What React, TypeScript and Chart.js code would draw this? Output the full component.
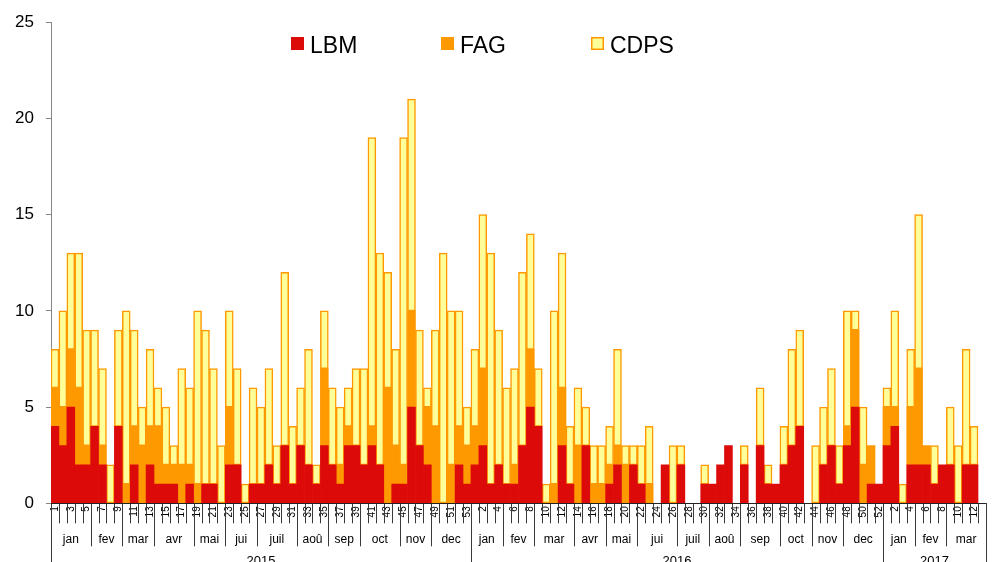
import React, { useEffect, useRef } from "react";
import { Chart, registerables } from "chart.js";

Chart.register(...registerables);

// ---- data ----
const years = ["2015", "2016", "2017"];
const yearWeekCounts = [53, 52, 13];

const monthLabels = [
  "jan", "fev", "mar", "avr", "mai", "jui", "juil", "aoû", "sep", "oct", "nov", "dec",
  "jan", "fev", "mar", "avr", "mai", "jui", "juil", "aoû", "sep", "oct", "nov", "dec",
  "jan", "fev", "mar",
];
const monthWeekCounts = [
  5, 4, 4, 5, 4, 4, 5, 4, 4, 5, 4, 5,
  4, 4, 5, 4, 4, 5, 4, 4, 5, 4, 4, 5,
  4, 4, 5,
];

// LBM (red)
const lbm = [
  // 2015
  4, 3, 5, 2, 2, 4, 2, 0, 4, 0, 2, 0, 2, 1, 1, 1, 0, 1, 0, 1, 1, 0, 2, 2, 0, 1, 1,
  2, 1, 3, 1, 3, 2, 1, 3, 2, 1, 3, 3, 2, 3, 2, 0, 1, 1, 5, 3, 2, 0, 0, 0, 2, 1,
  // 2016
  2, 3, 1, 2, 1, 1, 3, 5, 4, 0, 0, 3, 1, 0, 3, 0, 0, 1, 2, 0, 2, 1, 0, 0, 2, 0,
  2, 0, 0, 1, 1, 2, 3, 0, 2, 0, 3, 1, 1, 2, 3, 4, 0, 0, 2, 3, 1, 3, 5, 0, 1, 1,
  // 2017
  3, 4, 0, 2, 2, 2, 1, 2, 2, 0, 2, 2, 0,
];
// FAG (orange)
const fag = [
  // 2015
  2, 2, 3, 4, 1, 0, 1, 0, 0, 1, 2, 3, 2, 3, 1, 1, 2, 1, 1, 0, 0, 0, 3, 0, 0, 0, 0,
  0, 0, 0, 0, 0, 0, 0, 4, 0, 1, 1, 0, 0, 1, 0, 6, 2, 1, 5, 0, 3, 4, 0, 2, 2, 2,
  // 2016
  2, 4, 0, 0, 0, 1, 0, 3, 0, 0, 1, 3, 0, 3, 0, 1, 1, 1, 1, 2, 0, 0, 1, 0, 0, 0,
  0, 0, 0, 0, 0, 0, 0, 0, 0, 0, 0, 0, 0, 0, 0, 0, 0, 0, 0, 0, 0, 1, 4, 2, 2, 0,
  // 2017
  2, 1, 0, 3, 5, 1, 0, 0, 0, 0, 0, 0, 0,
];
// CDPS (light yellow)
const cdps = [
  // 2015
  2, 5, 5, 7, 6, 5, 4, 2, 5, 9, 5, 2, 4, 2, 3, 1, 5, 4, 9, 8, 6, 3, 5, 5, 1, 5, 4,
  5, 2, 9, 3, 3, 6, 1, 3, 4, 3, 2, 4, 5, 15, 11, 6, 5, 17, 11, 6, 1, 5, 13, 8, 6, 2,
  // 2016
  4, 8, 12, 7, 5, 5, 9, 6, 3, 1, 9, 7, 3, 3, 2, 2, 2, 2, 5, 1, 1, 2, 3, 0, 0, 3,
  1, 0, 0, 1, 0, 0, 0, 0, 1, 0, 3, 1, 0, 2, 5, 5, 0, 3, 3, 4, 2, 6, 1, 3, 0, 0,
  // 2017
  1, 5, 1, 3, 8, 0, 2, 0, 3, 3, 6, 2, 0,
];

const yMin = 0;
const yMax = 25;
const yStep = 5;

const weekLabels: string[] = [];
yearWeekCounts.forEach((c) => {
  for (let w = 1; w <= c; w++) weekLabels.push(String(w));
});

const FONT = "'Liberation Sans', Arial, Helvetica, sans-serif";

const decorPlugin = {
  id: "decor",
  afterDraw(chart: any) {
    const { ctx, chartArea } = chart;
    const x = chart.scales.x;
    const n = weekLabels.length;
    const step = x.getPixelForValue(1) - x.getPixelForValue(0);
    const edge = (i: number) => x.getPixelForValue(i) - step / 2;
    const base = chartArea.bottom;
    const H = chart.height;
    const px = (v: number) => Math.round(v) + 0.5;

    ctx.save();
    ctx.lineWidth = 1;
    ctx.strokeStyle = "#3a3a3a";
    const vline = (xx: number, y0: number, y1: number) => {
      ctx.beginPath();
      ctx.moveTo(px(xx), y0);
      ctx.lineTo(px(xx), y1);
      ctx.stroke();
    };

    // week boundaries
    for (let i = 0; i <= n; i++) vline(edge(i), base, base + 20);

    // months
    ctx.fillStyle = "#000";
    ctx.font = `12px ${FONT}`;
    ctx.textAlign = "center";
    ctx.textBaseline = "middle";
    let acc = 0;
    monthWeekCounts.forEach((c, k) => {
      const s = acc;
      const e = acc + c;
      vline(edge(e), base, base + 43);
      ctx.fillText(monthLabels[k], (edge(s) + edge(e)) / 2, base + 36);
      acc = e;
    });

    // years
    ctx.font = `13px ${FONT}`;
    acc = 0;
    vline(edge(0), base, H);
    yearWeekCounts.forEach((c, k) => {
      const s = acc;
      const e = acc + c;
      vline(edge(e), base, H);
      ctx.fillText(years[k], (edge(s) + edge(e)) / 2, base + 58);
      acc = e;
    });

    // x axis line
    ctx.strokeStyle = "#222";
    ctx.beginPath();
    ctx.moveTo(chartArea.left, px(base));
    ctx.lineTo(chartArea.right, px(base));
    ctx.stroke();

    // legend
    ctx.font = `23px ${FONT}`;
    ctx.textAlign = "left";
    ctx.textBaseline = "alphabetic";
    const ds = chart.data.datasets;
    ds.forEach((d: any, k: number) => {
      const lx = 291 + k * 150;
      const ly = 37;
      ctx.fillStyle = d.backgroundColor;
      ctx.fillRect(lx, ly, 13, 13);
      if (d.borderWidth) {
        ctx.strokeStyle = d.borderColor;
        ctx.lineWidth = 1.5;
        ctx.strokeRect(lx + 0.75, ly + 0.75, 11.5, 11.5);
      }
      ctx.fillStyle = "#000";
      ctx.fillText(d.label, lx + 19, ly + 16);
    });
    ctx.restore();
  },
};

export default function App() {
  const ref = useRef<HTMLCanvasElement | null>(null);

  useEffect(() => {
    if (!ref.current) return;
    const nz = (a: number[]) => a.map((v) => (v ? v : null));
    const chart = new Chart(ref.current, {
      type: "bar",
      data: {
        labels: weekLabels,
        datasets: [
          {
            label: "LBM",
            data: nz(lbm),
            backgroundColor: "#DD0A0A",
            borderWidth: 0,
          },
          {
            label: "FAG",
            data: nz(fag),
            backgroundColor: "#FF9900",
            borderWidth: 0,
          },
          {
            label: "CDPS",
            data: nz(cdps),
            backgroundColor: "#FFFF99",
            borderColor: "#FF9900",
            borderWidth: 1.5,
            borderSkipped: false,
          },
        ] as any,
      },
      options: {
        animation: false,
        responsive: false,
        devicePixelRatio: 1,
        datasets: { bar: { categoryPercentage: 1, barPercentage: 1 } },
        layout: { padding: { top: 20, right: 5.5, left: 0, bottom: 0 } },
        plugins: { legend: { display: false }, tooltip: { enabled: false } },
        scales: {
          x: {
            stacked: true,
            offset: true,
            grid: { display: false, drawTicks: false },
            border: { display: false },
            ticks: {
              autoSkip: false,
              minRotation: 90,
              maxRotation: 90,
              padding: 3,
              color: "#000",
              font: { family: FONT, size: 10 },
              callback: (_v: any, i: number) => (i % 2 === 0 ? weekLabels[i] : ""),
            },
            afterFit: (s: any) => {
              s.height = 58.7;
            },
          },
          y: {
            stacked: true,
            min: yMin,
            max: yMax,
            grid: {
              drawOnChartArea: false,
              drawTicks: true,
              tickLength: 5,
              color: "#868686",
            },
            border: { display: true, color: "#868686", width: 1 },
            ticks: {
              stepSize: yStep,
              padding: 12,
              color: "#000",
              font: { family: FONT, size: 17 },
            },
            afterFit: (s: any) => {
              s.width = 51;
            },
          },
        },
      } as any,
      plugins: [decorPlugin],
    });
    return () => chart.destroy();
  }, []);

  return (
    <div style={{ position: "fixed", left: 0, top: 0, width: 997, height: 562, background: "#fff" }}>
      <canvas ref={ref} width={997} height={562} style={{ display: "block" }} />
    </div>
  );
}
